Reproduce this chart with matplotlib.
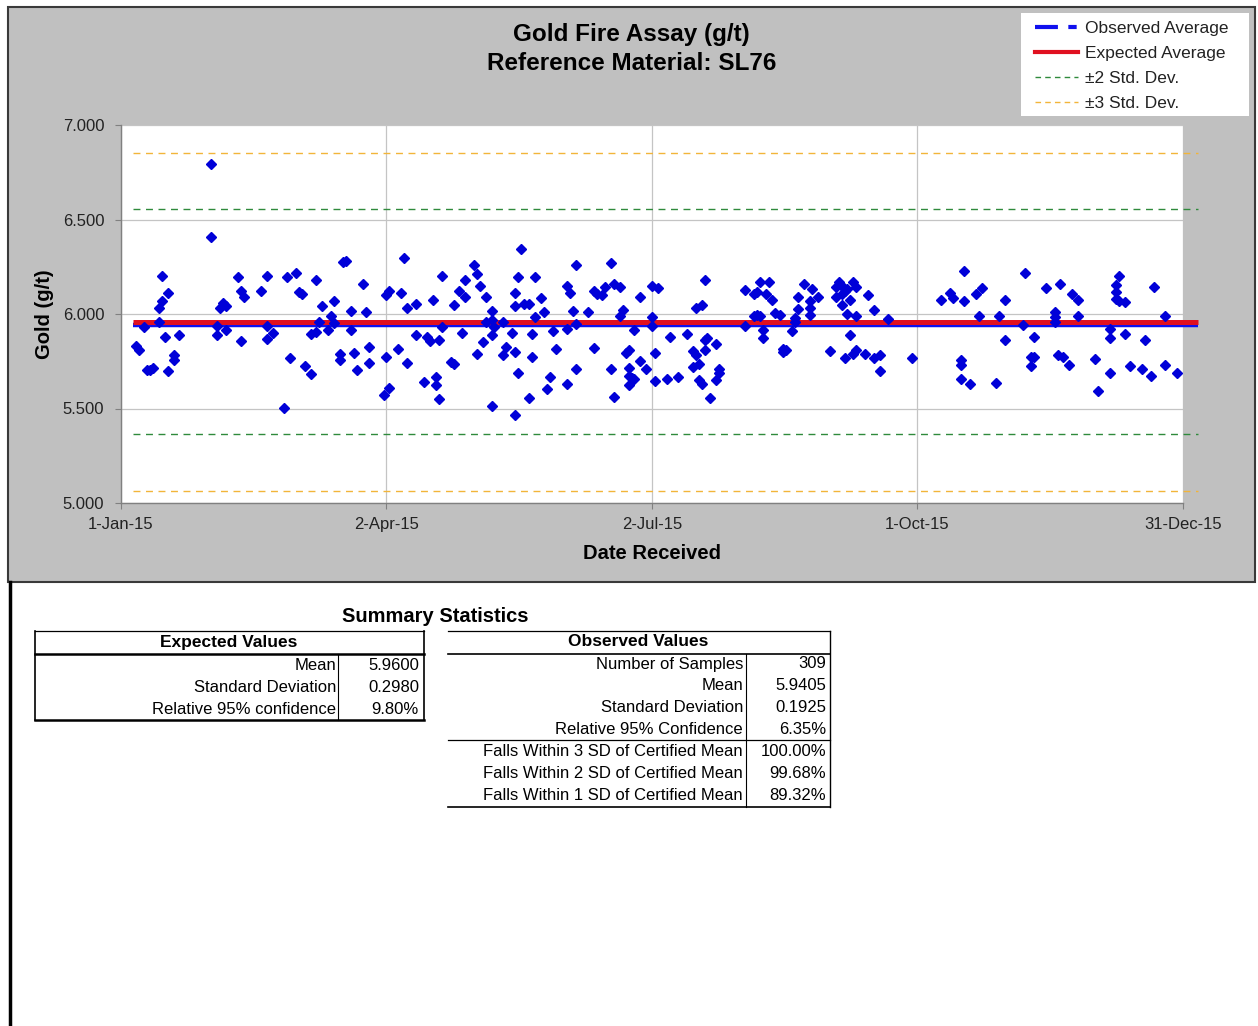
import numpy as np
import matplotlib
matplotlib.use('Agg')
import matplotlib.pyplot as plt
import matplotlib.dates as mdates
from matplotlib.lines import Line2D
from matplotlib.patches import Rectangle

plt.rcParams['font.family'] = 'Liberation Sans'

# Assay results, days counted from 1-Jan-15
days_q1 = [31, 31, 5, 6, 8, 9, 10, 11, 13, 13, 14, 16, 14, 15, 16, 18, 18, 20, 33, 33,
           34, 35, 36, 36, 40, 41, 42, 41, 48, 50, 50, 50, 52, 57, 60, 61, 62, 58, 56, 63,
           65, 65, 67, 67, 68, 69, 72, 71, 73, 73, 76, 77, 75, 75, 79, 79, 80, 81, 83, 84,
           85, 85]
gold_q1 = [6.795, 6.409, 5.829, 5.807, 5.931, 5.702, 5.702, 5.714, 5.957, 6.031,
           6.071, 6.110, 6.201, 5.878, 5.697, 5.785, 5.755, 5.890, 5.939, 5.890,
           6.031, 6.057, 6.040, 5.913, 6.198, 6.124, 6.089, 5.855, 6.120, 6.203,
           5.939, 5.866, 5.899, 6.194, 6.215, 6.118, 6.106, 5.767, 5.503, 5.723,
           5.681, 5.892, 5.903, 6.180, 5.957, 6.040, 5.992, 5.913, 5.952, 6.071,
           6.273, 6.282, 5.790, 5.755, 6.018, 5.913, 5.794, 5.702, 6.159, 6.013,
           5.825, 5.741]

days_q2 = [91, 92, 91, 92, 90, 96, 97, 98, 95, 98, 101, 101, 104, 105, 106, 107, 108, 108, 109, 109,
           110, 110, 113, 114, 114, 116, 117, 118, 118, 121, 122, 123, 122, 124, 125, 125, 127, 127, 128, 127,
           127, 131, 131, 132, 134, 135, 135, 135, 135, 136, 136, 137, 138, 140, 141, 141, 140, 142, 142, 144,
           145, 146, 147, 148, 149, 153, 154, 153, 153, 155, 156, 156, 156, 160, 162, 163, 162, 165, 166, 168,
           169, 171, 168, 169, 171, 172, 173, 174, 174, 174, 175, 176, 174, 176, 178, 178, 180]
gold_q2 = [6.098, 6.120, 5.772, 5.611, 5.570, 6.110, 6.296, 6.031, 5.813, 5.743,
           6.054, 5.887, 5.641, 5.878, 5.855, 6.075, 5.667, 5.623, 5.864, 5.551,
           6.203, 5.931, 5.746, 5.737, 6.045, 6.120, 5.899, 6.180, 6.089, 6.259,
           6.212, 6.147, 5.790, 5.852, 5.957, 6.089, 6.018, 5.966, 5.931, 5.887,
           5.512, 5.960, 5.781, 5.825, 5.899, 6.110, 6.041, 5.799, 5.465, 6.198,
           5.690, 6.344, 6.054, 6.054, 5.896, 5.772, 5.556, 6.194, 5.983, 6.084,
           6.013, 5.604, 5.667, 5.910, 5.816, 6.150, 6.110, 5.918, 5.632, 6.015,
           6.259, 5.948, 5.711, 6.010, 6.120, 6.106, 5.820, 6.103, 6.142, 6.270,
           6.159, 6.142, 5.711, 5.562, 5.987, 6.022, 5.794, 5.811, 5.714, 5.671,
           5.664, 5.658, 5.623, 5.916, 6.092, 5.750, 5.711]

days_q3 = [182, 184, 182, 182, 183, 183, 187, 188, 191, 194, 196, 197, 196, 198, 197, 199, 198, 199, 200, 200,
           200, 201, 202, 204, 204, 205, 205, 214, 214, 217, 218, 219, 217, 218, 219, 222, 220, 220, 221, 223,
           224, 226, 227, 228, 227, 230, 231, 231, 232, 232, 234, 236, 236, 236, 237, 239, 243, 245, 246, 247,
           247, 248, 249, 251, 252, 245, 250, 247, 249, 252, 248, 250, 251, 252, 255, 256, 258, 258, 260, 260,
           263, 271]
gold_q3 = [6.147, 6.136, 5.983, 5.939, 5.795, 5.646, 5.658, 5.878, 5.667, 5.892,
           5.802, 5.781, 5.720, 5.734, 6.031, 6.048, 5.653, 5.632, 6.180, 5.807,
           5.860, 5.874, 5.558, 5.843, 5.653, 5.711, 5.688, 6.127, 5.934, 5.992,
           5.997, 5.992, 6.106, 6.115, 6.168, 6.171, 5.913, 5.874, 6.106, 6.075,
           6.006, 5.997, 5.816, 5.807, 5.799, 5.910, 5.978, 5.957, 6.092, 6.027,
           6.159, 6.071, 6.031, 5.996, 6.133, 6.089, 5.802, 6.142, 6.168, 6.150,
           6.106, 6.124, 6.133, 6.168, 6.142, 6.092, 6.075, 6.045, 6.001, 5.989,
           5.769, 5.890, 5.790, 5.811, 5.790, 6.098, 6.022, 5.769, 5.785, 5.697,
           5.975, 5.769]

days_q4 = [281, 284, 285, 289, 289, 288, 288, 288, 291, 294, 293, 295, 300, 301, 303, 303, 309, 310, 312, 313,
           312, 313, 317, 320, 320, 320, 322, 321, 323, 325, 326, 328, 328, 334, 335, 339, 339, 339, 341, 341,
           341, 342, 342, 344, 344, 346, 350, 351, 353, 354, 358, 358, 362]
gold_q4 = [6.075, 6.110, 6.085, 6.226, 6.071, 5.755, 5.729, 5.658, 5.632, 5.992,
           6.106, 6.136, 5.635, 5.992, 6.075, 5.864, 5.943, 6.217, 5.772, 5.772,
           5.725, 5.878, 6.138, 6.010, 5.983, 5.957, 6.159, 5.785, 5.772, 5.732,
           6.106, 6.075, 5.992, 5.764, 5.593, 5.918, 5.874, 5.688, 6.156, 6.115,
           6.080, 6.200, 6.071, 6.066, 5.896, 5.723, 5.711, 5.860, 5.671, 6.142,
           5.992, 5.729, 5.688]

# Certified values for SL76 and observed summary
exp_mean = 5.96
exp_sd = 0.298
exp_rel95 = 9.80
obs_n = 309
obs_mean = 5.9405
obs_sd = 0.1925
obs_rel95 = 6.35
within_sd = [100.00, 99.68, 89.32]

y_ticks = [5.0, 5.5, 6.0, 6.5, 7.0]
x_ticks = ['2015-01-01', '2015-04-02', '2015-07-02', '2015-10-01', '2015-12-31']

W, H = 1258, 1026


def fx(x):
    return x / W


def fy(y):
    return 1 - y / H


start = np.datetime64('2015-01-01')
days = np.array(days_q1 + days_q2 + days_q3 + days_q4)
gold = np.array(gold_q1 + gold_q2 + gold_q3 + gold_q4)
dates = start + days.astype('timedelta64[D]')

fig = plt.figure(figsize=(W / 100, H / 100), dpi=100)
fig.patch.set_facecolor('white')

# grey chart panel and the sheet border underneath it
fig.add_artist(Rectangle((fx(8), fy(582)), fx(1255) - fx(8), fy(7) - fy(582),
                         transform=fig.transFigure, facecolor='#c0c0c0',
                         edgecolor='#3a3a3a', lw=1.5, zorder=0))
fig.add_artist(Line2D([fx(10), fx(10)], [fy(582), fy(1026)], transform=fig.transFigure,
                      color='black', lw=2.5))

ax = fig.add_axes([fx(121), fy(503), fx(1183) - fx(121), fy(125) - fy(503)])
ax.set_facecolor('white')

line_start = start + np.timedelta64(4, 'D')
line_end = start + np.timedelta64(369, 'D')
xs = [line_start, line_end]

for k, col in [(3, '#f2b53a'), (2, '#2f8a3c')]:
    for sign in (1, -1):
        lvl = exp_mean + sign * k * exp_sd
        ax.plot(xs, [lvl, lvl], color=col, lw=1.0, dashes=(5, 4), clip_on=False, zorder=2)

ax.plot(xs, [obs_mean, obs_mean], color='#1010ee', lw=3.2, clip_on=False, zorder=3,
        solid_capstyle='butt')
ax.plot(xs, [exp_mean, exp_mean], color='#e01020', lw=3.6, clip_on=False, zorder=4,
        solid_capstyle='butt')

ax.plot(dates, gold, ls='none', marker='D', ms=5.3, color='#0000d8', mec='#0000d8', zorder=5)

ax.set_ylim(5.0, 7.0)
ax.set_yticks(y_ticks)
ax.yaxis.set_major_formatter(plt.FormatStrFormatter('%.3f'))
tick_dates = [np.datetime64(d) for d in x_ticks]
ax.set_xlim(tick_dates[0], tick_dates[-1])
ax.set_xticks(tick_dates)
ax.xaxis.set_major_formatter(mdates.DateFormatter('%-d-%b-%y'))

ax.grid(True, color='#c4c4c4', lw=0.9)
ax.set_axisbelow(True)
for side in ['top', 'right']:
    ax.spines[side].set_visible(False)
for side in ['left', 'bottom']:
    ax.spines[side].set_color('#808080')
    ax.spines[side].set_linewidth(1.0)
ax.tick_params(axis='y', length=4, color='#808080', pad=8, labelsize=12, labelcolor='#222222')
ax.tick_params(axis='x', length=4, color='#808080', pad=6, labelsize=12, labelcolor='#222222')

ax.set_xlabel('Date Received', fontsize=14.5, fontweight='bold', labelpad=9)
ax.set_ylabel('Gold (g/t)', fontsize=14.5, fontweight='bold', labelpad=6)

fig.text(fx(631), fy(35), 'Gold Fire Assay (g/t)', ha='center', va='center',
         fontsize=17.5, fontweight='bold')
fig.text(fx(632), fy(64), 'Reference Material: SL76', ha='center', va='center',
         fontsize=17.5, fontweight='bold')

# legend on its own white panel
fig.add_artist(Rectangle((fx(1021), fy(116)), fx(1249) - fx(1021), fy(13) - fy(116),
                         transform=fig.transFigure, facecolor='white', edgecolor='none',
                         zorder=1))
handles = [
    Line2D([], [], color='#1010ee', lw=3, dashes=(5.5, 2.5, 2, 2)),
    Line2D([], [], color='#e01020', lw=3),
    Line2D([], [], color='#2f8a3c', lw=1, dashes=(4, 3)),
    Line2D([], [], color='#f2b53a', lw=1, dashes=(4, 3)),
]
labels = ['Observed Average', 'Expected Average', '\u00b12 Std. Dev.', '\u00b13 Std. Dev.']
leg = fig.legend(handles, labels, loc='upper left', bbox_to_anchor=(fx(1035), fy(21)),
                 frameon=False, fontsize=12.5, handlelength=2.5, labelspacing=0.56,
                 borderpad=0, handletextpad=0.4, borderaxespad=0)
leg.set_zorder(2)
for t in leg.get_texts():
    t.set_color('#222222')

# summary statistics tables
fig.text(fx(435), fy(617), 'Summary Statistics', ha='center', va='center',
         fontsize=14.5, fontweight='bold')


def hline(x0, x1, y, lw):
    fig.add_artist(Line2D([fx(x0), fx(x1)], [fy(y), fy(y)], transform=fig.transFigure,
                          color='black', lw=lw))


def vline(x, y0, y1, lw):
    fig.add_artist(Line2D([fx(x), fx(x)], [fy(y0), fy(y1)], transform=fig.transFigure,
                          color='black', lw=lw))


expected_labels = ['Mean', 'Standard Deviation', 'Relative 95% confidence']
expected_values = [f'{exp_mean:.4f}', f'{exp_sd:.4f}', f'{exp_rel95:.2f}%']

hline(35, 424, 631, 0.9)
hline(35, 424, 654, 1.8)
hline(35, 424, 720, 1.8)
vline(35, 631, 720, 1.2)
vline(424, 631, 720, 1.2)
vline(338, 654, 720, 0.8)
fig.text(fx(229), fy(643), 'Expected Values', ha='center', va='center',
         fontsize=12.5, fontweight='bold')
for i, (lab, val) in enumerate(zip(expected_labels, expected_values)):
    y = 665 + i * 22.5
    fig.text(fx(336), fy(y), lab, ha='right', va='center', fontsize=12)
    fig.text(fx(419), fy(y), val, ha='right', va='center', fontsize=12)

observed_labels = ['Number of Samples', 'Mean', 'Standard Deviation', 'Relative 95% Confidence',
                   'Falls Within 3 SD of Certified Mean', 'Falls Within 2 SD of Certified Mean',
                   'Falls Within 1 SD of Certified Mean']
observed_values = [f'{obs_n}', f'{obs_mean:.4f}', f'{obs_sd:.4f}', f'{obs_rel95:.2f}%'] + \
                  [f'{v:.2f}%' for v in within_sd]

hline(448, 830, 631, 0.9)
hline(448, 830, 654, 1.2)
hline(448, 830, 740, 0.9)
hline(448, 830, 807, 1.2)
vline(830, 631, 807, 1.0)
vline(746, 654, 807, 0.8)
fig.text(fx(638), fy(642), 'Observed Values', ha='center', va='center',
         fontsize=12.5, fontweight='bold')
for i, (lab, val) in enumerate(zip(observed_labels, observed_values)):
    y = 664 + i * 22
    fig.text(fx(743), fy(y), lab, ha='right', va='center', fontsize=12)
    fig.text(fx(826), fy(y), val, ha='right', va='center', fontsize=12)

fig.savefig('out.png', dpi=100)
